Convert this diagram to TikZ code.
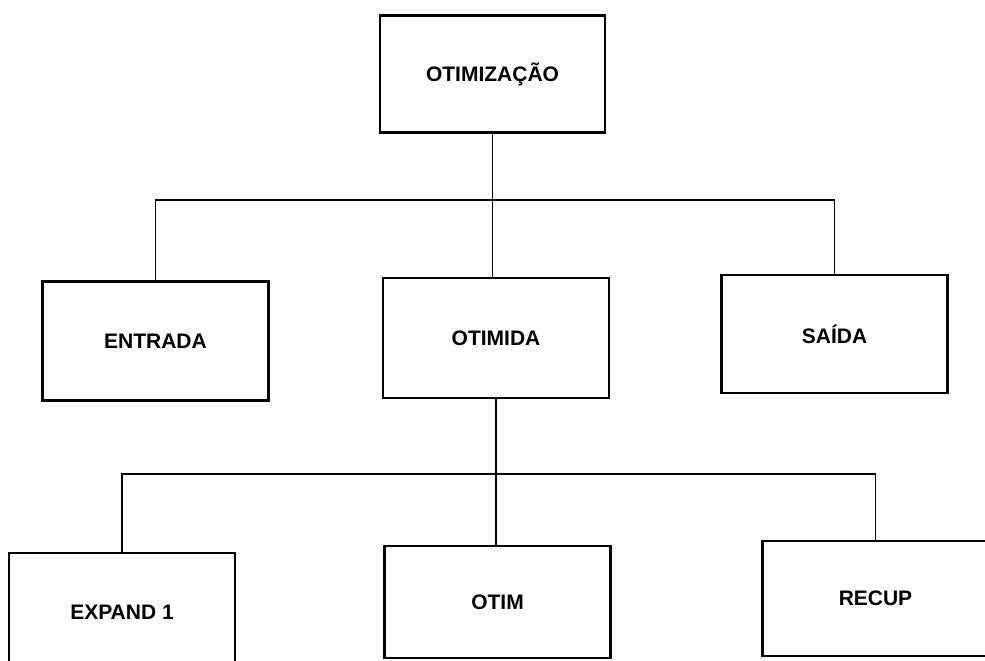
\documentclass[tikz,border=0pt]{standalone}
\usepackage{fontspec}
\setmainfont{Liberation Sans}
\begin{document}
\begin{tikzpicture}[x=1pt,y=-1pt,
  box/.style={draw, line width=2.2pt, minimum width=226pt, minimum height=118pt,
    inner sep=0pt, font=\fontsize{21}{25}\selectfont\bfseries},
  link/.style={line width=1.4pt}]
\useasboundingbox (0,0) rectangle (985,661);
\clip (0,0) rectangle (985,661);
\fill[white] (0,0) rectangle (985,661);
\node[box, minimum width=225pt, minimum height=117pt] (top) at (492.5,74) {OTIMIZAÇÃO};
\node[box, minimum height=119pt] (entrada) at (155.5,341) {ENTRADA};
\node[box, minimum height=120pt] (otimida) at (496,338) {OTIMIDA};
\node[box] (saida) at (834.5,334) {SAÍDA};
\node[box] (expand) at (122,612) {EXPAND 1};
\node[box, minimum height=112pt] (otim) at (497.5,602) {OTIM};
\node[box, minimum height=115pt] (recup) at (875.5,598.5) {RECUP};
\coordinate (hy1) at (0,200);
\coordinate (hy2) at (0,474);
\draw[link] (top.south) -- (top.south |- otimida.north);
\draw[link] (entrada.north) -- (entrada.north |- hy1) -- (saida.north |- hy1) -- (saida.north);
\draw[link] (otimida.south) -- (otimida.south |- otim.north);
\draw[link] (expand.north) -- (expand.north |- hy2) -- (recup.north |- hy2) -- (recup.north);
\end{tikzpicture}
\end{document}
